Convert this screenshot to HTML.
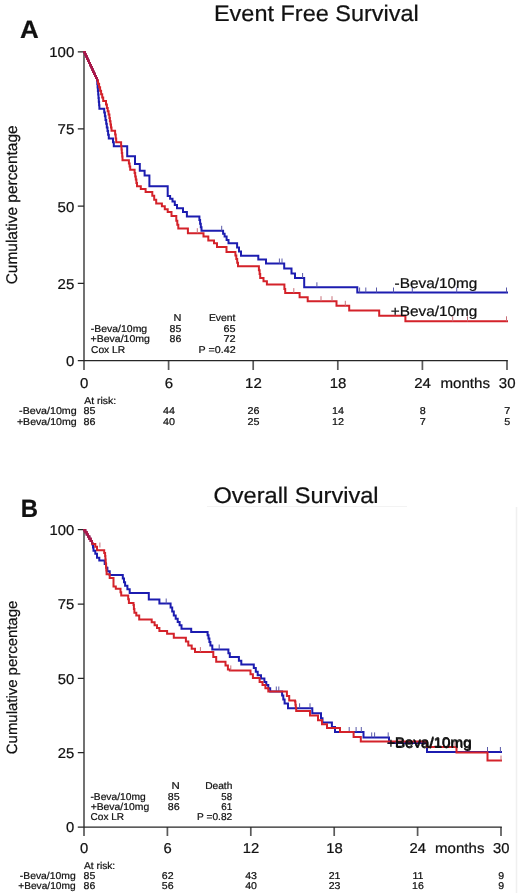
<!DOCTYPE html>
<html><head><meta charset="utf-8"><style>
html,body{margin:0;padding:0;background:#fff;}
svg{display:block;will-change:transform;}
text{font-family:"Liberation Sans",sans-serif;fill:#111;stroke:#111;stroke-width:0.22px;text-rendering:geometricPrecision;}
</style></head><body>
<svg width="520" height="893" viewBox="0 0 520 893">
<rect width="520" height="893" fill="#fff"/>
<line x1="516.5" y1="507" x2="516.5" y2="893" stroke="#f0f0f0" stroke-width="1.5"/>
<line x1="207" y1="506.5" x2="407" y2="506.5" stroke="#f3f3f3" stroke-width="1"/>
<path d="M84.0 51.199999999999996V370M168.6 360.5V370M253.2 360.5V370M337.8 360.5V370M422.4 360.5V370M507.0 360.5V370" stroke="#5a5a5a" stroke-width="1.7" fill="none"/>
<path d="M77.8 360.5H507.8M77.8 51.80H84.0M77.8 128.97H84.0M77.8 206.15H84.0M77.8 283.32H84.0" stroke="#262626" stroke-width="1.25" fill="none"/>
<path d="M84.0 52.2H85.0V54.4H86.0V56.5H87.0V58.7H88.0V60.8H89.0V63.0H90.0V65.2H91.0V67.3H92.0V69.5H93.0V71.7H94.0V73.8H95.0V76.0H96.0V78.1H97.0V80.3H97.3V83.9H97.6V87.4H97.9V91.0H98.2V94.5H98.5V98.1H98.8V101.7H99.1V105.2H99.4V108.8H103.6V108.8H104.2V112.5H104.9V116.2H105.5V119.9H106.2V123.7H106.8V127.4H107.5V131.1H108.1V134.8H108.8V138.5H112.3V138.5H113.0V142.3H113.8V146.2H127.2V146.2H127.2V156.2H135.0V156.2H135.0V164.0H139.8V164.0H139.8V170.8H144.6V170.8H144.6V175.6H149.4V175.6H149.4V186.2H167.7V186.2H167.7V196.0H170.1V198.8H172.5V201.5H174.8V204.9H177.0V208.3H183.0V212.1H186.9V212.1H186.9V216.5H198.7V216.5H199.4V220.1H200.1V223.7H200.8V227.2H201.5V230.8H221.7V230.8H223.1V233.7H224.6V236.5H226.6V239.9H228.5V243.3H237.1V243.3H237.1V247.5H239.0V247.5H239.0V251.6H241.0V251.6H241.0V255.8H258.3V255.8H258.3V259.6H266.0V259.6H266.0V263.5H284.2V263.5H284.2V268.5H291.5V268.5H291.5V273.5H295.0V273.5H295.0V278.0H304.2V278.0H304.2V287.3H357.3V287.3H357.3V292.5H507.0V292.5" stroke="#1c1cb0" stroke-width="2.0" fill="none" stroke-linejoin="miter" stroke-linecap="square"/>
<path d="M221.7 230.8V225.8M279.4 263.5V258.5M282.0 263.5V258.5M302.6 278.0V273.0M316.9 287.3V282.3M359.6 292.5V287.5M365.8 292.5V287.5M376.5 292.5V287.5M393.5 292.5V287.5M412.3 292.5V287.5M456.7 292.5V287.5M506.5 292.5V287.5" stroke="#5a5aa8" stroke-width="1" fill="none"/>
<path d="M84.0 52.2H85.0V54.4H86.0V56.5H87.0V58.7H88.0V60.8H89.0V63.0H90.0V65.2H91.0V67.3H92.0V69.5H93.0V71.7H94.0V73.8H95.0V76.0H96.0V78.1H97.0V80.3H98.0V83.8H99.1V87.2H100.1V90.7H101.1V94.2H102.2V97.6H103.2V101.1H105.2V101.1H106.0V104.5H106.9V107.9H107.7V111.2H108.6V114.6H109.4V118.0H109.9V121.2H110.5V124.4H111.0V127.6H111.5V130.8H114.6V130.8H115.1V134.6H115.7V138.5H116.2V142.3H120.8V142.3H121.1V145.9H121.5V149.5H121.8V153.0H122.2V156.6H122.5V160.2H128.3V160.2H128.9V163.4H129.6V166.6H130.2V169.8H134.0V169.8H134.6V173.1H135.2V176.4H135.8V179.6H136.4V182.9H137.0V186.2H140.8V189.0H145.6V191.9H152.3V195.8H154.2V199.7H156.2V203.5H161.9V206.3H164.8V209.2H167.7V212.1H171.5V216.0H176.3V220.8H177.3V224.7H178.3V228.5H187.9V228.5H187.9V233.2H201.5V233.2H203.5V236.5H208.3V240.4H214.0V243.3H217.0V247.1H226.5V247.1H226.5V251.9H234.6V251.9H235.4V255.5H236.3V259.1H237.2V262.7H238.0V266.3H258.3V266.3H258.9V270.2H259.6V274.0H260.2V277.9H263.5V281.2H266.9V284.6H283.5V284.6H284.4V288.9H285.2V293.1H299.6V293.1H299.6V297.2H307.7V297.2H307.7V301.2H336.5V301.2H336.5V305.8H349.2V305.8H349.2V310.4H379.2V310.4H379.2V315.8H405.4V315.8H405.4V321.3H507.0V321.3" stroke="#d4222a" stroke-width="2.0" fill="none" stroke-linejoin="miter" stroke-linecap="square"/>
<path d="M197.3 233.2V228.2M293.8 293.1V288.1M321.0 301.2V296.2M332.0 301.2V296.2M345.3 305.8V300.8M452.7 321.3V316.3M467.5 321.3V316.3M506.5 321.3V316.3" stroke="#c8707a" stroke-width="1" fill="none"/>
<path d="M84.0 52.2H85.0V54.4H86.0V56.5H87.0V58.7H88.0V60.8H89.0V63.0H90.0V65.2H91.0V67.3H92.0V69.5H93.0V71.7H94.0V73.8H95.0V76.0H96.0V78.1H97.0V80.3" stroke="#a8184a" stroke-width="2.0" fill="none" stroke-linecap="square"/>
<text transform="translate(74.30 57.20) scale(1.0500 1)" font-size="14.3" text-anchor="end">100</text>
<text transform="translate(74.30 134.38) scale(1.0500 1)" font-size="14.3" text-anchor="end">75</text>
<text transform="translate(74.30 211.55) scale(1.0500 1)" font-size="14.3" text-anchor="end">50</text>
<text transform="translate(74.30 288.72) scale(1.0500 1)" font-size="14.3" text-anchor="end">25</text>
<text transform="translate(74.30 365.90) scale(1.0500 1)" font-size="14.3" text-anchor="end">0</text>
<text transform="translate(84.20 388.00) scale(1.0500 1)" font-size="14.3" text-anchor="middle">0</text>
<text transform="translate(168.80 388.00) scale(1.0500 1)" font-size="14.3" text-anchor="middle">6</text>
<text transform="translate(253.40 388.00) scale(1.0500 1)" font-size="14.3" text-anchor="middle">12</text>
<text transform="translate(338.00 388.00) scale(1.0500 1)" font-size="14.3" text-anchor="middle">18</text>
<text transform="translate(422.60 388.00) scale(1.0500 1)" font-size="14.3" text-anchor="middle">24</text>
<text transform="translate(507.20 388.00) scale(1.0500 1)" font-size="14.3" text-anchor="middle">30</text>
<text transform="translate(440.48 388.00) scale(1.0564 1)" font-size="14.3" >months</text>
<text transform="translate(19.95 37.60) scale(1.0388 1)" font-size="25.0" font-weight="bold" >A</text>
<text transform="translate(213.96 21.00) scale(1.0433 1)" font-size="22.5" >Event Free Survival</text>
<text transform="translate(16.80 284.37) rotate(-90) scale(0.9978 1.0000)" font-size="15.5">Cumulative percentage</text>
<text transform="translate(173.55 321.00) scale(1.1052 1)" font-size="9.9" >N</text>
<text transform="translate(208.89 321.00) scale(1.0521 1)" font-size="9.9" >Event</text>
<text transform="translate(90.78 332.00) scale(1.0593 1)" font-size="9.9" >-Beva/10mg</text>
<text transform="translate(169.60 332.00) scale(1.0715 1)" font-size="9.9" >85</text>
<text transform="translate(223.51 332.00) scale(1.0992 1)" font-size="9.9" >65</text>
<text transform="translate(90.52 342.40) scale(1.0649 1)" font-size="9.9" >+Beva/10mg</text>
<text transform="translate(169.60 342.40) scale(1.0742 1)" font-size="9.9" >86</text>
<text transform="translate(223.47 342.40) scale(1.1129 1)" font-size="9.9" >72</text>
<text transform="translate(91.04 353.00) scale(1.0358 1)" font-size="9.9" >Cox LR</text>
<text transform="translate(198.56 353.00) scale(1.0853 1)" font-size="9.9" >P =0.42</text>
<text transform="translate(84.22 404.00) scale(1.0604 1)" font-size="9.9" >At risk:</text>
<text transform="translate(19.07 414.30) scale(1.0823 1)" font-size="9.9" >-Beva/10mg</text>
<text transform="translate(16.92 424.80) scale(1.0722 1)" font-size="9.9" >+Beva/10mg</text>
<text transform="translate(83.60 414.30) scale(1.0900 1)" font-size="9.9" text-anchor="start">85</text>
<text transform="translate(168.90 414.30) scale(1.0900 1)" font-size="9.9" text-anchor="middle">44</text>
<text transform="translate(253.50 414.30) scale(1.0900 1)" font-size="9.9" text-anchor="middle">26</text>
<text transform="translate(338.10 414.30) scale(1.0900 1)" font-size="9.9" text-anchor="middle">14</text>
<text transform="translate(422.70 414.30) scale(1.0900 1)" font-size="9.9" text-anchor="middle">8</text>
<text transform="translate(507.30 414.30) scale(1.0900 1)" font-size="9.9" text-anchor="middle">7</text>
<text transform="translate(83.60 424.80) scale(1.0900 1)" font-size="9.9" text-anchor="start">86</text>
<text transform="translate(168.90 424.80) scale(1.0900 1)" font-size="9.9" text-anchor="middle">40</text>
<text transform="translate(253.50 424.80) scale(1.0900 1)" font-size="9.9" text-anchor="middle">25</text>
<text transform="translate(338.10 424.80) scale(1.0900 1)" font-size="9.9" text-anchor="middle">12</text>
<text transform="translate(422.70 424.80) scale(1.0900 1)" font-size="9.9" text-anchor="middle">7</text>
<text transform="translate(507.30 424.80) scale(1.0900 1)" font-size="9.9" text-anchor="middle">5</text>
<text transform="translate(477.40 287.70) scale(1.0750 1)" font-size="14.3" text-anchor="end">-Beva/10mg</text>
<text transform="translate(477.40 315.80) scale(1.0750 1)" font-size="14.3" text-anchor="end">+Beva/10mg</text>
<path d="M84.0 529.1V836M167.4 827.0V836M250.8 827.0V836M334.2 827.0V836M417.6 827.0V836M501.0 827.0V836" stroke="#5a5a5a" stroke-width="1.7" fill="none"/>
<path d="M77.8 827.0H501.8M77.8 529.70H84.0M77.8 604.03H84.0M77.8 678.35H84.0M77.8 752.67H84.0" stroke="#262626" stroke-width="1.25" fill="none"/>
<path d="M84.0 530.2H85.3V532.3H86.7V534.5H88.0V536.6H89.3V538.7H90.7V540.9H92.0V543.0H92.4V544.5H93.0V547.6H93.5V550.8H95.3V553.7H97.0V557.7H99.3V560.6H103.4V560.6H104.7V564.1H106.1V567.7H107.4V571.2H109.7V575.0H121.7V575.0H122.8V578.6H124.0V582.2H125.1V585.8H127.4V589.3H129.7V592.9H148.8V592.9H148.8V599.6H159.4V599.6H159.4V603.5H169.0V603.5H170.6V607.5H172.2V611.6H173.8V615.6H175.7V618.8H177.7V622.0H179.6V625.2H181.5V628.7H191.2V628.7H191.2V631.9H206.6V631.9H207.6V635.3H208.5V638.6H209.4V642.0H210.4V645.4H212.3V649.5H226.9V649.5H228.4V653.2H229.8V656.9H236.5V656.9H238.9V660.8H241.3V664.6H251.9V664.6H253.8V668.1H255.8V671.7H257.7V675.2H261.0V678.5H264.4V681.9H266.3V685.1H268.3V688.3H270.2V691.5H280.8V691.5H282.1V695.5H283.3V699.5H284.6V703.5H288.0V708.3H312.3V708.3H312.3V713.3H321.0V713.3H321.0V718.2H322.5V718.2H322.5V722.4H331.9V722.4H331.9V727.0H335.0V727.0H335.0V732.0H363.5V732.0H363.5V737.4H389.0V737.4H389.0V743.0H427.0V743.0H427.0V752.0H501.0V752.0" stroke="#1c1cb0" stroke-width="2.0" fill="none" stroke-linejoin="miter" stroke-linecap="square"/>
<path d="M166.2 603.5V598.5M219.2 649.5V644.5M276.3 691.5V686.5M278.8 691.5V686.5M299.6 708.3V703.3M310.0 708.3V703.3M349.2 732.0V727.0M356.1 732.0V727.0M361.3 732.0V727.0M371.7 737.4V732.4M374.6 737.4V732.4M388.2 737.4V732.4M487.5 752.0V747.0M500.4 752.0V747.0" stroke="#5a5aa8" stroke-width="1" fill="none"/>
<path d="M84.0 530.2H85.3V532.3H86.7V534.5H88.0V536.6H89.3V538.7H90.7V540.9H92.0V543.0H92.4V544.0H95.3V546.8H97.0V546.8H97.0V550.2H103.4V550.2H104.2V553.1H105.1V556.0H105.4V559.6H105.7V563.3H106.0V566.9H106.3V570.6H106.6V574.2H109.7V574.2H109.7V578.0H113.5V578.0H113.5V586.5H115.8V588.8H119.7V588.8H120.5V592.2H121.2V595.6H127.4V595.6H128.2V599.3H128.9V603.0H133.5V605.0H133.9V608.9H134.4V612.7H136.3V615.6H139.2V619.4H148.8V619.4H151.7V622.3H154.6V625.2H157.0V628.1H159.4V631.0H167.1V631.0H167.1V633.8H173.8V633.8H173.8V637.7H183.5V637.7H185.9V641.5H188.3V645.4H191.7V648.8H195.0V652.1H208.5V652.1H213.3V656.9H216.2V661.7H223.1V661.7H225.5V665.5H227.9V669.4H229.8V670.4H248.1V670.4H250.5V674.2H252.9V678.1H259.6V681.9H262.5V685.1H265.4V688.3H268.3V691.5H284.6V691.5H286.9V696.0H289.2V700.4H295.0V701.5H295.4V704.7H295.8V707.8H296.2V711.0H310.0V711.0H310.0V715.5H318.0V715.5H318.0V720.2H322.0V720.2H322.0V724.2H327.0V724.2H327.0V728.1H340.0V728.1H340.0V732.0H353.6V732.0H353.6V737.1H360.8V737.1H360.8V741.6H427.0V741.6H427.0V747.0H456.5V747.0H456.5V752.5H487.5V752.5H487.5V760.5H501.0V760.5" stroke="#d4222a" stroke-width="2.0" fill="none" stroke-linejoin="miter" stroke-linecap="square"/>
<path d="M99.9 547.5V542.5M200.4 652.1V647.1M230.8 670.4V665.4M455.0 747.0V742.0M501.0 760.5V755.5" stroke="#c8707a" stroke-width="1" fill="none"/>
<path d="M84.0 530.2H85.3V532.3H86.7V534.5H88.0V536.6H89.3V538.7H90.7V540.9H92.0V543.0" stroke="#a8184a" stroke-width="2.0" fill="none" stroke-linecap="square"/>
<text transform="translate(74.30 535.10) scale(1.0350 1)" font-size="14.3" text-anchor="end">100</text>
<text transform="translate(74.30 609.43) scale(1.0350 1)" font-size="14.3" text-anchor="end">75</text>
<text transform="translate(74.30 683.75) scale(1.0350 1)" font-size="14.3" text-anchor="end">50</text>
<text transform="translate(74.30 758.07) scale(1.0350 1)" font-size="14.3" text-anchor="end">25</text>
<text transform="translate(74.30 832.40) scale(1.0350 1)" font-size="14.3" text-anchor="end">0</text>
<text transform="translate(84.20 853.00) scale(1.0350 1)" font-size="14.3" text-anchor="middle">0</text>
<text transform="translate(167.60 853.00) scale(1.0350 1)" font-size="14.3" text-anchor="middle">6</text>
<text transform="translate(251.00 853.00) scale(1.0350 1)" font-size="14.3" text-anchor="middle">12</text>
<text transform="translate(334.40 853.00) scale(1.0350 1)" font-size="14.3" text-anchor="middle">18</text>
<text transform="translate(417.80 853.00) scale(1.0350 1)" font-size="14.3" text-anchor="middle">24</text>
<text transform="translate(501.20 853.00) scale(1.0350 1)" font-size="14.3" text-anchor="middle">30</text>
<text transform="translate(435.08 853.00) scale(1.0520 1)" font-size="14.3" >months</text>
<text transform="translate(20.68 516.90) scale(0.9574 1)" font-size="25.0" font-weight="bold" >B</text>
<text transform="translate(213.38 503.20) scale(1.0486 1)" font-size="22.5" >Overall Survival</text>
<text transform="translate(17.20 754.15) rotate(-90) scale(1.0018 1.0000)" font-size="14.9">Cumulative percentage</text>
<text transform="translate(171.60 789.30) scale(1.1596 1)" font-size="9.9" >N</text>
<text transform="translate(205.21 789.30) scale(1.0301 1)" font-size="9.9" >Death</text>
<text transform="translate(90.39 799.70) scale(1.0383 1)" font-size="9.9" >-Beva/10mg</text>
<text transform="translate(167.80 799.70) scale(1.0814 1)" font-size="9.9" >85</text>
<text transform="translate(221.36 799.70) scale(0.9831 1)" font-size="9.9" >58</text>
<text transform="translate(90.63 809.70) scale(1.0503 1)" font-size="9.9" >+Beva/10mg</text>
<text transform="translate(167.79 809.70) scale(1.0840 1)" font-size="9.9" >86</text>
<text transform="translate(221.26 809.70) scale(0.9976 1)" font-size="9.9" >61</text>
<text transform="translate(90.54 819.70) scale(1.0202 1)" font-size="9.9" >Cox LR</text>
<text transform="translate(197.11 819.70) scale(1.0276 1)" font-size="9.9" >P =0.82</text>
<text transform="translate(84.02 868.70) scale(1.0331 1)" font-size="9.9" >At risk:</text>
<text transform="translate(19.78 878.80) scale(1.0498 1)" font-size="9.9" >-Beva/10mg</text>
<text transform="translate(18.24 888.80) scale(1.0302 1)" font-size="9.9" >+Beva/10mg</text>
<text transform="translate(83.60 878.80) scale(1.0700 1)" font-size="9.9" text-anchor="start">85</text>
<text transform="translate(167.70 878.80) scale(1.0700 1)" font-size="9.9" text-anchor="middle">62</text>
<text transform="translate(251.10 878.80) scale(1.0700 1)" font-size="9.9" text-anchor="middle">43</text>
<text transform="translate(334.50 878.80) scale(1.0700 1)" font-size="9.9" text-anchor="middle">21</text>
<text transform="translate(417.90 878.80) scale(1.0700 1)" font-size="9.9" text-anchor="middle">11</text>
<text transform="translate(501.30 878.80) scale(1.0700 1)" font-size="9.9" text-anchor="middle">9</text>
<text transform="translate(83.60 888.80) scale(1.0700 1)" font-size="9.9" text-anchor="start">86</text>
<text transform="translate(167.70 888.80) scale(1.0700 1)" font-size="9.9" text-anchor="middle">56</text>
<text transform="translate(251.10 888.80) scale(1.0700 1)" font-size="9.9" text-anchor="middle">40</text>
<text transform="translate(334.50 888.80) scale(1.0700 1)" font-size="9.9" text-anchor="middle">23</text>
<text transform="translate(417.90 888.80) scale(1.0700 1)" font-size="9.9" text-anchor="middle">16</text>
<text transform="translate(501.30 888.80) scale(1.0700 1)" font-size="9.9" text-anchor="middle">9</text>
<text stroke="#111" stroke-width="0.35" transform="translate(471.30 747.00) scale(1.0580 1)" font-size="14.3" text-anchor="end">-Beva/10mg</text>
<text stroke="#111" stroke-width="0.35" transform="translate(471.80 748.40) scale(1.0580 1)" font-size="14.3" text-anchor="end">+Beva/10mg</text>
</svg>
</body></html>
